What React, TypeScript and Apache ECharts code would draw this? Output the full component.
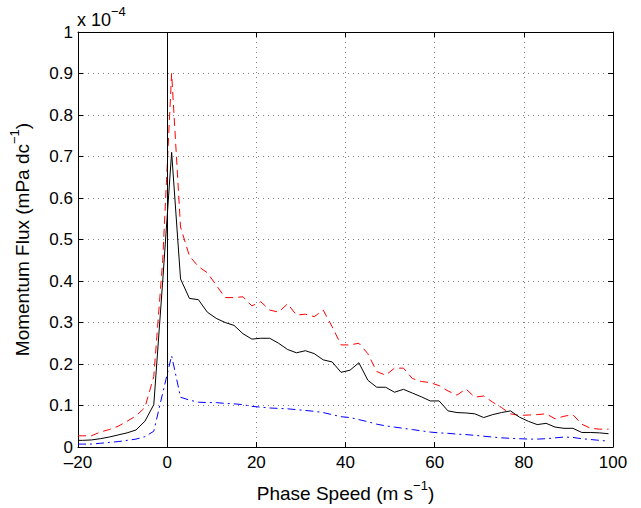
import React, { useEffect, useRef } from "react";
import * as echarts from "echarts";

const speeds = [-20, -19, -17, -15, -13, -11, -9, -7, -5, -3, -1, 1, 3, 5, 7, 9, 11, 13, 15, 17, 19, 21, 23, 25, 27, 29, 31, 33, 35, 37, 39, 41, 43, 45, 47, 49, 51, 53, 55, 57, 59, 61, 63, 65, 67, 69, 71, 73, 75, 77, 79, 81, 83, 85, 87, 89, 91, 93, 95, 97, 99];

const totalFlux = [0.016, 0.016, 0.017, 0.02, 0.024, 0.029, 0.034, 0.041, 0.062, 0.102, 0.40, 0.71, 0.405, 0.358, 0.355, 0.325, 0.31, 0.30, 0.293, 0.273, 0.26, 0.262, 0.262, 0.25, 0.235, 0.227, 0.232, 0.225, 0.21, 0.205, 0.18, 0.185, 0.203, 0.161, 0.144, 0.144, 0.132, 0.139, 0.13, 0.121, 0.111, 0.111, 0.087, 0.083, 0.082, 0.08, 0.071, 0.078, 0.083, 0.087, 0.072, 0.062, 0.054, 0.057, 0.048, 0.045, 0.045, 0.035, 0.035, 0.034, 0.032];

const redFlux = [0.027, 0.027, 0.027, 0.036, 0.042, 0.05, 0.062, 0.075, 0.095, 0.17, 0.45, 0.90, 0.53, 0.46, 0.435, 0.42, 0.39, 0.36, 0.36, 0.362, 0.34, 0.35, 0.33, 0.325, 0.345, 0.318, 0.32, 0.314, 0.33, 0.29, 0.246, 0.246, 0.25, 0.225, 0.182, 0.173, 0.19, 0.19, 0.165, 0.158, 0.155, 0.148, 0.135, 0.125, 0.14, 0.12, 0.123, 0.108, 0.095, 0.08, 0.076, 0.077, 0.078, 0.08, 0.068, 0.074, 0.078, 0.055, 0.045, 0.043, 0.043];

const blueFlux = [0.007, 0.007, 0.007, 0.009, 0.011, 0.013, 0.016, 0.019, 0.025, 0.038, 0.13, 0.22, 0.12, 0.113, 0.108, 0.107, 0.107, 0.105, 0.104, 0.102, 0.098, 0.096, 0.094, 0.093, 0.092, 0.09, 0.088, 0.086, 0.083, 0.078, 0.073, 0.071, 0.066, 0.061, 0.055, 0.051, 0.048, 0.045, 0.042, 0.039, 0.036, 0.034, 0.033, 0.031, 0.03, 0.028, 0.026, 0.024, 0.022, 0.021, 0.02, 0.019, 0.019, 0.02, 0.022, 0.024, 0.023, 0.02, 0.018, 0.016, 0.014];

const xTicks = [-20, 0, 20, 40, 60, 80, 100];
const yTicks = [0, 0.1, 0.2, 0.3, 0.4, 0.5, 0.6, 0.7, 0.8, 0.9, 1];

const FONT = "'Liberation Sans', Arial, Helvetica, sans-serif";

export default function App() {
  const ref = useRef<HTMLDivElement>(null);
  useEffect(() => {
    document.body.style.margin = "0";
    if (!ref.current) return;
    const chart = echarts.init(ref.current, undefined, { renderer: "svg" });
    const pair = (arr: number[]) => speeds.map((s, i) => [s, arr[i]]);
    const gridLine = { show: true, lineStyle: { color: "#808080", type: [1, 4] as any, width: 1 } };
    const tickStyle = { show: true, inside: true, length: 5, lineStyle: { color: "#000" } };
    const nameRich = {
      a: { fontSize: 19, fontFamily: FONT, color: "#000", verticalAlign: "bottom", lineHeight: 24 },
      s: { fontSize: 13, fontFamily: FONT, color: "#000", verticalAlign: "top", lineHeight: 24 },
    };
    chart.setOption({
      animation: false,
      backgroundColor: "#fff",
      grid: { left: 76, top: 32, right: 28, bottom: 53, containLabel: false },
      xAxis: [
        {
          type: "value",
          min: xTicks[0],
          max: xTicks[xTicks.length - 1],
          interval: 20,
          axisLine: { show: true, onZero: false, lineStyle: { color: "#000", width: 1 } },
          axisTick: tickStyle,
          splitLine: gridLine,
          axisLabel: {
            color: "#000",
            fontSize: 17,
            fontFamily: FONT,
            margin: 7,
            formatter: (v: number) => String(v).replace("-", "\u2013"),
          },
          name: "{a|Phase Speed (m s}{s|\u22121}{a|)}",
          nameLocation: "middle",
          nameGap: 32,
          nameTextStyle: { rich: nameRich },
        },
        {
          type: "value",
          position: "top",
          min: xTicks[0],
          max: xTicks[xTicks.length - 1],
          interval: 20,
          axisLine: { show: true, onZero: false, lineStyle: { color: "#000", width: 1 } },
          axisTick: tickStyle,
          splitLine: { show: false },
          axisLabel: { show: false },
        },
      ],
      yAxis: [
        {
          type: "value",
          min: yTicks[0],
          max: yTicks[yTicks.length - 1],
          interval: 0.1,
          axisLine: { show: true, onZero: false, lineStyle: { color: "#000", width: 1 } },
          axisTick: tickStyle,
          splitLine: gridLine,
          axisLabel: { color: "#000", fontSize: 17, fontFamily: FONT, margin: 5 },
          name: "{a|Momentum Flux (mPa dc}{s|\u22121}{a|)}",
          nameLocation: "middle",
          nameRotate: 90,
          nameGap: 46,
          nameTextStyle: { rich: nameRich },
        },
        {
          type: "value",
          position: "right",
          min: yTicks[0],
          max: yTicks[yTicks.length - 1],
          interval: 0.1,
          axisLine: { show: true, onZero: false, lineStyle: { color: "#000", width: 1 } },
          axisTick: tickStyle,
          splitLine: { show: false },
          axisLabel: { show: false },
        },
      ],
      graphic: [
        {
          type: "text",
          left: 77,
          top: 5,
          style: {
            text: "{a|x 10}{s|\u22124}",
            rich: {
              a: { fontSize: 18, fontFamily: FONT, fill: "#000", verticalAlign: "bottom", lineHeight: 24 },
              s: { fontSize: 13, fontFamily: FONT, fill: "#000", verticalAlign: "top", lineHeight: 24 },
            },
          },
        },
      ],
      series: [
        {
          type: "line",
          data: pair(redFlux),
          symbol: "none",
          lineStyle: { color: "#ff0000", width: 1, type: [8, 5] as any },
          z: 3,
        },
        {
          type: "line",
          data: pair(blueFlux),
          symbol: "none",
          lineStyle: { color: "#0000ff", width: 1, type: [8, 4, 2, 4] as any },
          z: 3,
        },
        {
          type: "line",
          data: pair(totalFlux),
          symbol: "none",
          lineStyle: { color: "#000", width: 1 },
          z: 4,
          markLine: {
            silent: true,
            symbol: "none",
            label: { show: false },
            lineStyle: { color: "#000", width: 1, type: "solid" },
            data: [{ xAxis: 0 }],
          },
        },
      ],
    });
    return () => chart.dispose();
  }, []);
  return <div ref={ref} style={{ width: 641, height: 508 }} />;
}
